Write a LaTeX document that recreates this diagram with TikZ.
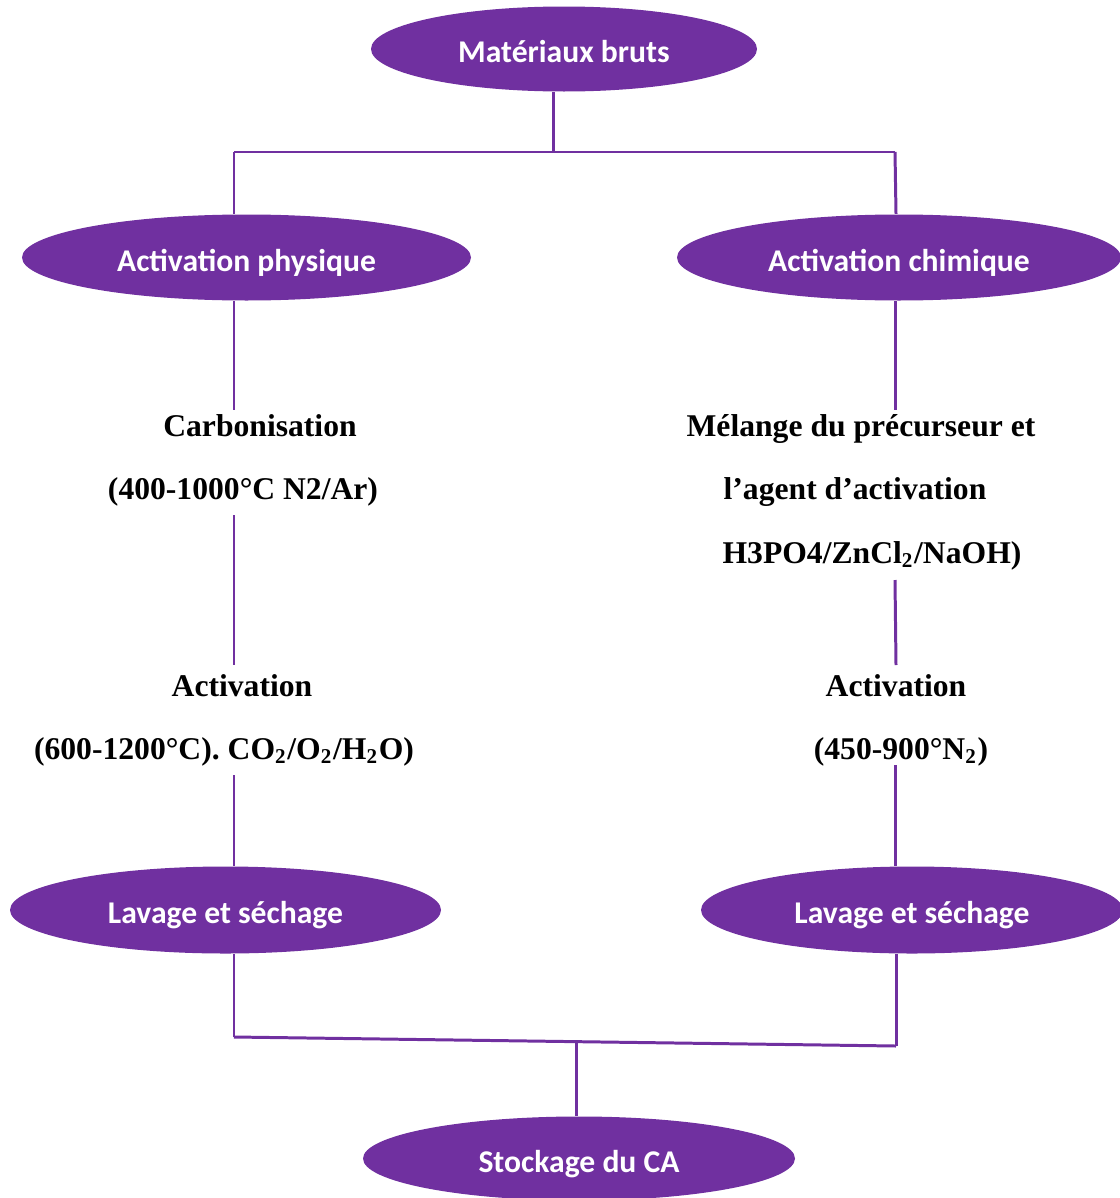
\documentclass[tikz,border=0pt]{standalone}
\usepackage{fontspec}
\usepackage{xcolor}
\setmainfont{Liberation Serif}
\newfontfamily\calib{Carlito}
\usetikzlibrary{positioning,shapes.geometric,calc}
\definecolor{violet}{HTML}{7030A0}

\tikzset{
    bulle/.style={ellipse, fill=violet, inner sep=0pt, text=white,
        text height=9.4pt, text depth=1.6pt,
        font=\calib\bfseries\fontsize{9}{11}\selectfont},
    etape/.style={inner sep=1pt, text=black,
        font=\bfseries\fontsize{9}{11}\selectfont},
    trait/.style={draw=violet, line width=0.85pt}
}

\begin{document}
\begin{tikzpicture}
        \useasboundingbox (0, 0) rectangle (11.19, -11.98);

        %%ellipses
        \node[bulle, minimum width=3.86cm, minimum height=0.85cm] (mat) at (5.64, -0.49){Matériaux bruts};
        \node[bulle, minimum width=4.49cm, minimum height=0.86cm] (phys) at (2.465, -2.575){Activation physique};
        \node[bulle, minimum width=4.44cm, minimum height=0.86cm] (chim) at (8.99, -2.575){Activation chimique};
        \node[bulle, minimum width=4.31cm, minimum height=0.87cm] (lavg) at (2.255, -9.10){Lavage et séchage};
        \node[bulle, minimum width=4.22cm, minimum height=0.87cm] (lavd) at (9.12, -9.10){Lavage et séchage};
        \node[bulle, minimum width=4.32cm, minimum height=0.84cm] (stock) at (5.79, -11.585){Stockage du CA};

        %%texte gauche
        \node[etape] (carb1) at (2.60, -4.26){Carbonisation};
        \node[etape] (carb2) at (2.43, -4.92){(400-1000°C N2/Ar)};
        \node[etape] (actg1) at (2.42, -6.86){Activation};
        \node[etape] (actg2) at (2.24, -7.52){(600-1200°C). CO\textsubscript{2}/O\textsubscript{2}/H\textsubscript{2}O)};

        %%texte droite
        \node[etape] (mel1) at (8.61, -4.29){Mélange du précurseur et};
        \node[etape] (mel2) at (8.55, -4.92){l’agent d’activation};
        \node[etape] (mel3) at (8.72, -5.56){H3PO4/ZnCl\textsubscript{2}/NaOH)};
        \node[etape] (actd1) at (8.96, -6.86){Activation};
        \node[etape] (actd2) at (9.01, -7.52){(450-900°N\textsubscript{2})};

        %%jonctions
        \coordinate (hm) at (5.53, -1.52);
        \coordinate (hg) at (2.34, -1.52);
        \coordinate (hd) at (8.95, -1.52);
        \coordinate (bg) at (2.34, -10.37);
        \coordinate (bd) at (8.96, -10.46);
        \coordinate (bm) at (5.76, -10.42);

        %%traits
        \draw[trait] (mat.south -| hm) to (hm);
        \draw[trait] (hg) to (hd);
        \draw[trait] (hg) to (hg |- phys.north);
        \draw[trait] (hd) to ($(chim.north -| hd)+(0.01,0)$);

        \draw[trait] (phys.south -| hg) to (2.34, -4.10);
        \draw[trait] (2.34, -5.15) to (2.34, -6.65);
        \draw[trait] (2.34, -7.75) to (lavg.north -| hg);

        \draw[trait] (chim.south -| hd) to (8.95, -4.10);
        \draw[trait] (8.95, -5.80) to (8.96, -6.65);
        \draw[trait] (8.95, -7.65) to (lavd.north -| hd);

        \draw[trait] (lavg.south -| bg) to (bg);
        \draw[trait] (lavd.south -| bd) to (bd);
        \draw[trait] (bg) to (bd);
        \draw[trait] (bm) to (stock.north -| bm);
\end{tikzpicture}
\end{document}
